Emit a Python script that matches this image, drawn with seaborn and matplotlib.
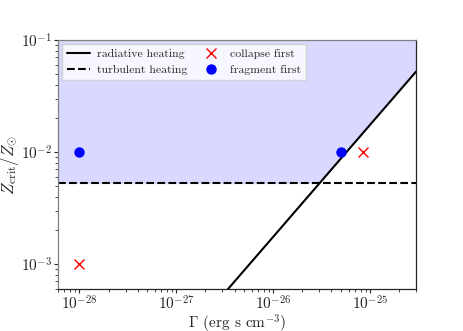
import numpy as np
import matplotlib
matplotlib.use("Agg")
import matplotlib.pyplot as plt
from matplotlib.ticker import NullFormatter
import seaborn as sns

# critical metallicity lines
gamma_range = [6e-29, 3e-25]
z_range = [6e-4, 1e-1]
z_turb = 5.25e-3           # turbulent heating (flat)
rad_coeff = 1.75e23        # radiative heating: Z = coeff * Gamma

# simulation outcomes
collapse_gamma = [1e-28, 8.5e-26]
collapse_z = [1e-3, 1e-2]
fragment_gamma = [1e-28, 5e-26]
fragment_z = [1e-2, 1e-2]

sns.set_style("ticks")
plt.rcParams["font.family"] = ["cmr10", "DejaVu Serif"]
plt.rcParams["mathtext.fontset"] = "cm"
plt.rcParams["axes.formatter.use_mathtext"] = True

fig = plt.figure(figsize=(4.63, 3.31), dpi=100)
ax = fig.add_axes([0.125, 0.127, 0.774, 0.752])

g = np.logspace(np.log10(gamma_range[0]), np.log10(gamma_range[1]), 200)
z_rad = rad_coeff * g
z_crit = np.maximum(z_rad, z_turb)

ax.fill_between(g, z_crit, z_range[1], color="blue", alpha=0.15, lw=0)
sns.lineplot(x=g, y=z_rad, color="black", lw=1.5, ax=ax, label="radiative heating")
sns.lineplot(x=g, y=np.full_like(g, z_turb), color="black", lw=1.5, ls="--",
             ax=ax, label="turbulent heating")
ax.plot(collapse_gamma, collapse_z, "x", color="red", ms=7, mew=1.0,
        label="collapse first")
ax.plot(fragment_gamma, fragment_z, "o", color="blue", ms=7.5, mew=0,
        label="fragment first")

ax.set_xscale("log")
ax.set_yscale("log")
ax.set_xlim(gamma_range)
ax.set_ylim(z_range)
ax.xaxis.set_minor_formatter(NullFormatter())
ax.yaxis.set_minor_formatter(NullFormatter())
ax.set_xlabel(r"$\Gamma$ (erg s cm$^{-3}$)", fontsize=11, labelpad=0)
ax.set_ylabel(r"$Z_{\rm crit}/Z_{\odot}$", fontsize=12, labelpad=0)
ax.tick_params(labelsize=11, length=3, width=0.8, pad=1)
ax.tick_params(which="minor", length=2, width=0.6)
for s in ax.spines.values():
    s.set_linewidth(0.9)
ax.spines["left"].set_color("0.5")
ax.spines["top"].set_color("0.5")
ax.legend(loc="upper left", ncol=2, fontsize=8.5, frameon=True,
          fancybox=False, framealpha=0.8, edgecolor="0.8",
          handlelength=2.0, handletextpad=0.6, columnspacing=1.0,
          markerscale=1.0, borderaxespad=0.35)

fig.savefig("out.png", dpi=100)
